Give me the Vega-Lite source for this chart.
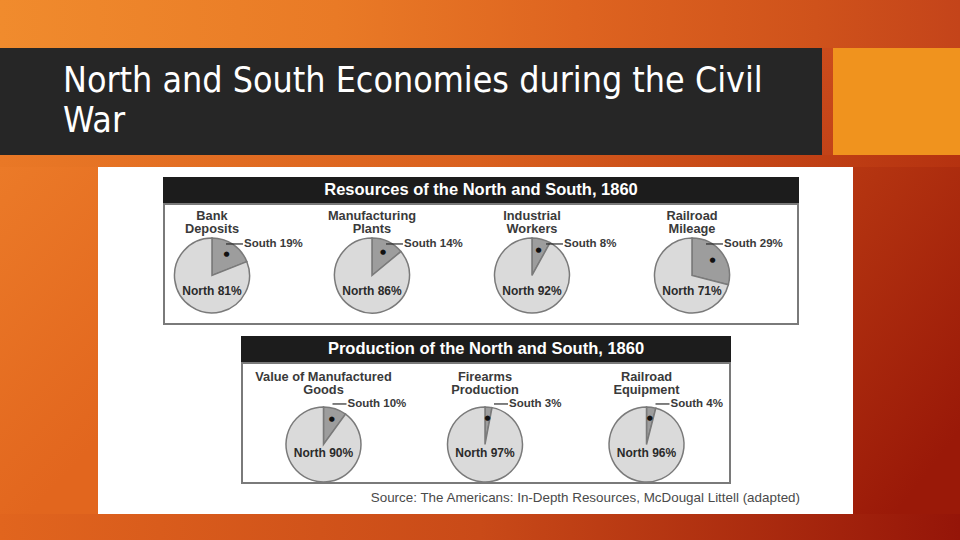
{
  "$schema": "https://vega.github.io/schema/vega-lite/v6.json",
  "background": "#ffffff",
  "padding": 0,
  "spacing": 0,
  "config": {"view": {"stroke": null}, "concat": {"spacing": 0}, "text": {"font": "Liberation Sans"}},
  "datasets": {
    "shares": [
      {"panel": "Resources of the North and South, 1860", "chart": "Bank\nDeposits", "region": "South", "pct": 19},
      {"panel": "Resources of the North and South, 1860", "chart": "Bank\nDeposits", "region": "North", "pct": 81},
      {"panel": "Resources of the North and South, 1860", "chart": "Manufacturing\nPlants", "region": "South", "pct": 14},
      {"panel": "Resources of the North and South, 1860", "chart": "Manufacturing\nPlants", "region": "North", "pct": 86},
      {"panel": "Resources of the North and South, 1860", "chart": "Industrial\nWorkers", "region": "South", "pct": 8},
      {"panel": "Resources of the North and South, 1860", "chart": "Industrial\nWorkers", "region": "North", "pct": 92},
      {"panel": "Resources of the North and South, 1860", "chart": "Railroad\nMileage", "region": "South", "pct": 29},
      {"panel": "Resources of the North and South, 1860", "chart": "Railroad\nMileage", "region": "North", "pct": 71},
      {"panel": "Production of the North and South, 1860", "chart": "Value of Manufactured\nGoods", "region": "South", "pct": 10},
      {"panel": "Production of the North and South, 1860", "chart": "Value of Manufactured\nGoods", "region": "North", "pct": 90},
      {"panel": "Production of the North and South, 1860", "chart": "Firearms\nProduction", "region": "South", "pct": 3},
      {"panel": "Production of the North and South, 1860", "chart": "Firearms\nProduction", "region": "North", "pct": 97},
      {"panel": "Production of the North and South, 1860", "chart": "Railroad\nEquipment", "region": "South", "pct": 4},
      {"panel": "Production of the North and South, 1860", "chart": "Railroad\nEquipment", "region": "North", "pct": 96}
    ]
  },
  "vconcat": [
    {
      "width": 960, "height": 48,
      "view": {"fill": {"gradient": "linear", "x1": 0, "y1": 0, "x2": 1, "y2": 0, "stops": [{"offset": 0, "color": "#f08b2d"}, {"offset": 0.35, "color": "#e97a26"}, {"offset": 0.6, "color": "#de6420"}, {"offset": 0.85, "color": "#cf521b"}, {"offset": 1, "color": "#c4441a"}]}},
      "data": {"values": []},
      "mark": {"type": "text", "text": ""}
    },
    {
      "hconcat": [
        {
          "width": 822, "height": 107,
          "view": {"fill": "#262626"},
          "data": {"values": [{"title": "North and South Economies during the Civil\nWar"}]},
          "mark": {"type": "text", "align": "left", "baseline": "alphabetic", "dx": 63, "dy": -9.5, "lineBreak": "\n", "font": "Liberation Sans Narrow, DejaVu Sans Condensed, sans-serif", "fontSize": 35.5, "lineHeight": 40, "color": "#ffffff"},
          "encoding": {"x": {"value": 0}, "text": {"field": "title"}}
        },
        {
          "width": 11, "height": 107,
          "view": {"fill": {"gradient": "linear", "x1": 0, "y1": 0, "x2": 0, "y2": 1, "stops": [{"offset": 0, "color": "#cb4c1c"}, {"offset": 1, "color": "#c24318"}]}},
          "data": {"values": []},
          "mark": {"type": "text", "text": ""}
        },
        {
          "width": 127, "height": 107,
          "view": {"fill": "#f0931e"},
          "data": {"values": []},
          "mark": {"type": "text", "text": ""}
        }
      ],
      "spacing": 0, "bounds": "flush"
    },
    {
      "width": 960, "height": 12,
      "view": {"fill": {"gradient": "linear", "x1": 0, "y1": 0, "x2": 1, "y2": 0, "stops": [{"offset": 0, "color": "#e97826"}, {"offset": 0.5, "color": "#d9601e"}, {"offset": 1, "color": "#b53210"}]}},
      "data": {"values": []},
      "mark": {"type": "text", "text": ""}
    },
    {
      "hconcat": [
        {
          "width": 98, "height": 347,
          "view": {"fill": {"gradient": "linear", "x1": 0, "y1": 0, "x2": 0.3, "y2": 1, "stops": [{"offset": 0, "color": "#eb7a28"}, {"offset": 1, "color": "#e2661e"}]}},
          "data": {"values": []},
          "mark": {"type": "text", "text": ""}
        },
        {
          "vconcat": [
            {"width": 755, "height": 10, "view": {"fill": "#ffffff"}, "data": {"values": []}, "mark": {"type": "text", "text": ""}},
            {
              "hconcat": [
                {"width": 65, "height": 148, "view": {"fill": "#ffffff"}, "data": {"values": []}, "mark": {"type": "text", "text": ""}},
                {
                  "vconcat": [
                    {
                      "width": 636, "height": 26,
                      "view": {"fill": "#1c1c1c"},
                      "data": {"name": "shares"},
                      "transform": [
                        {"filter": "datum.panel === 'Resources of the North and South, 1860'"},
                        {"aggregate": [{"op": "count", "as": "n"}], "groupby": ["panel"]}
                      ],
                      "mark": {"type": "text", "fontWeight": "bold", "fontSize": 16.5, "color": "#ffffff", "baseline": "middle", "align": "center"},
                      "encoding": {"text": {"field": "panel"}}
                    },
                    {
                      "width": 636, "height": 122,
                      "view": {"fill": "#ffffff"},
                      "layer": [
                        {
                          "data": {"name": "shares"},
                          "transform": [
                            {"filter": "datum.panel === 'Resources of the North and South, 1860'"},
                            {"calculate": "datum.region + ' ' + datum.pct + '%'", "as": "label"},
                            {"stack": "pct", "groupby": ["chart"], "sort": [{"field": "region", "order": "descending"}], "as": ["t0", "t1"]},
                            {"window": [{"op": "mean", "field": "t0", "as": "tmid"}], "groupby": ["chart"], "sort": [{"field": "region", "order": "ascending"}], "frame": [-1, 0]}
                          ],
                          "encoding": {
                            "x": {"field": "chart", "type": "nominal", "axis": null, "scale": {"type": "point", "domain": ["Bank\nDeposits", "Manufacturing\nPlants", "Industrial\nWorkers", "Railroad\nMileage"], "padding": 0.4875, "align": 0.314}},
                            "y": {"field": "panel", "type": "nominal", "axis": null, "scale": {"type": "point", "align": 0.594}}
                          },
                          "layer": [
                            {
                              "mark": {"type": "arc", "outerRadius": 37.5, "stroke": "#7a7a7a", "strokeWidth": 1.5},
                              "encoding": {
                                "theta": {"field": "t0", "type": "quantitative", "scale": {"domain": [0, 100]}},
                                "theta2": {"field": "t1"},
                                "color": {"field": "region", "type": "nominal", "legend": null, "scale": {"domain": ["South", "North"], "range": ["#9d9d9d", "#dadada"]}}
                              }
                            },
                            {
                              "transform": [{"filter": "datum.region === 'South'"}],
                              "mark": {"type": "rule", "color": "#2b2b2b", "strokeWidth": 1.2, "xOffset": 14, "x2Offset": 31, "yOffset": -31.5},
                              "encoding": {"x2": {"field": "chart"}}
                            },
                            {
                              "transform": [{"filter": "datum.region === 'South'"}],
                              "mark": {"type": "text", "text": "●", "font": "DejaVu Sans", "fontSize": 7, "color": "#111111", "align": "center", "baseline": "middle"},
                              "encoding": {"theta": {"field": "tmid", "type": "quantitative"}, "radius": {"value": 26}}
                            },
                            {
                              "transform": [{"filter": "datum.region === 'South'"}],
                              "mark": {"type": "text", "align": "left", "baseline": "middle", "dx": 32, "dy": -31.5, "fontSize": 11.5, "fontWeight": "bold", "color": "#3a3a3a"},
                              "encoding": {"text": {"field": "label"}}
                            },
                            {
                              "transform": [{"filter": "datum.region === 'North'"}],
                              "mark": {"type": "text", "align": "center", "baseline": "middle", "dy": 16, "fontSize": 12, "fontWeight": "bold", "color": "#2a2a2a"},
                              "encoding": {"text": {"field": "label"}}
                            },
                            {
                              "transform": [{"filter": "datum.region === 'North'"}],
                              "mark": {"type": "text", "align": "center", "baseline": "middle", "dy": -59.5, "lineBreak": "\n", "lineHeight": 12.8, "fontSize": 12.8, "fontWeight": "bold", "color": "#3a3a3a"},
                              "encoding": {"text": {"field": "chart"}}
                            }
                          ]
                        },
                        {
                          "data": {"values": [{}]},
                          "mark": {"type": "rect", "fill": null, "stroke": "#7a7a7a", "strokeWidth": 4, "clip": true}
                        }
                      ]
                    }
                  ],
                  "spacing": 0, "bounds": "flush"
                }
              ],
              "spacing": 0
            },
            {"width": 755, "height": 11, "view": {"fill": "#ffffff"}, "data": {"values": []}, "mark": {"type": "text", "text": ""}},
            {
              "hconcat": [
                {"width": 143, "height": 148, "view": {"fill": "#ffffff"}, "data": {"values": []}, "mark": {"type": "text", "text": ""}},
                {
                  "vconcat": [
                    {
                      "width": 490, "height": 26,
                      "view": {"fill": "#1c1c1c"},
                      "data": {"name": "shares"},
                      "transform": [
                        {"filter": "datum.panel === 'Production of the North and South, 1860'"},
                        {"aggregate": [{"op": "count", "as": "n"}], "groupby": ["panel"]}
                      ],
                      "mark": {"type": "text", "fontWeight": "bold", "fontSize": 16.5, "color": "#ffffff", "baseline": "middle", "align": "center"},
                      "encoding": {"text": {"field": "panel"}}
                    },
                    {
                      "width": 490, "height": 122,
                      "view": {"fill": "#ffffff"},
                      "layer": [
                        {
                          "data": {"name": "shares"},
                          "transform": [
                            {"filter": "datum.panel === 'Production of the North and South, 1860'"},
                            {"calculate": "datum.region + ' ' + datum.pct + '%'", "as": "label"},
                            {"stack": "pct", "groupby": ["chart"], "sort": [{"field": "region", "order": "descending"}], "as": ["t0", "t1"]},
                            {"window": [{"op": "mean", "field": "t0", "as": "tmid"}], "groupby": ["chart"], "sort": [{"field": "region", "order": "ascending"}], "frame": [-1, 0]}
                          ],
                          "encoding": {
                            "x": {"field": "chart", "type": "nominal", "axis": null, "scale": {"type": "point", "domain": ["Value of Manufactured\nGoods", "Firearms\nProduction", "Railroad\nEquipment"], "padding": 0.517, "align": 0.494}},
                            "y": {"field": "panel", "type": "nominal", "axis": null, "scale": {"type": "point", "align": 0.676}}
                          },
                          "layer": [
                            {
                              "mark": {"type": "arc", "outerRadius": 37.5, "stroke": "#7a7a7a", "strokeWidth": 1.5},
                              "encoding": {
                                "theta": {"field": "t0", "type": "quantitative", "scale": {"domain": [0, 100]}},
                                "theta2": {"field": "t1"},
                                "color": {"field": "region", "type": "nominal", "legend": null, "scale": {"domain": ["South", "North"], "range": ["#9d9d9d", "#dadada"]}}
                              }
                            },
                            {
                              "transform": [{"filter": "datum.region === 'South'"}],
                              "mark": {"type": "rule", "color": "#2b2b2b", "strokeWidth": 1.2, "xOffset": 9, "x2Offset": 23, "yOffset": -40.5},
                              "encoding": {"x2": {"field": "chart"}}
                            },
                            {
                              "transform": [{"filter": "datum.region === 'South'"}],
                              "mark": {"type": "text", "text": "●", "font": "DejaVu Sans", "fontSize": 7, "color": "#111111", "align": "center", "baseline": "middle"},
                              "encoding": {"theta": {"field": "tmid", "type": "quantitative"}, "radius": {"value": 27}}
                            },
                            {
                              "transform": [{"filter": "datum.region === 'South'"}],
                              "mark": {"type": "text", "align": "left", "baseline": "middle", "dx": 24, "dy": -40.5, "fontSize": 11.5, "fontWeight": "bold", "color": "#3a3a3a"},
                              "encoding": {"text": {"field": "label"}}
                            },
                            {
                              "transform": [{"filter": "datum.region === 'North'"}],
                              "mark": {"type": "text", "align": "center", "baseline": "middle", "dy": 8.5, "fontSize": 12, "fontWeight": "bold", "color": "#2a2a2a"},
                              "encoding": {"text": {"field": "label"}}
                            },
                            {
                              "transform": [{"filter": "datum.region === 'North'"}],
                              "mark": {"type": "text", "align": "center", "baseline": "middle", "dy": -67.5, "lineBreak": "\n", "lineHeight": 12.8, "fontSize": 12.8, "fontWeight": "bold", "color": "#3a3a3a"},
                              "encoding": {"text": {"field": "chart"}}
                            }
                          ]
                        },
                        {
                          "data": {"values": [{}]},
                          "mark": {"type": "rect", "fill": null, "stroke": "#7a7a7a", "strokeWidth": 4, "clip": true}
                        }
                      ]
                    }
                  ],
                  "spacing": 0, "bounds": "flush"
                }
              ],
              "spacing": 0
            },
            {
              "width": 702, "height": 29,
              "view": {"fill": "#ffffff"},
              "data": {"values": [{"source": "Source: The Americans: In-Depth Resources, McDougal Littell (adapted)"}]},
              "mark": {"type": "text", "align": "right", "baseline": "middle", "fontSize": 13.4, "color": "#4a4a4a", "dy": -2},
              "encoding": {"x": {"value": "width"}, "text": {"field": "source"}}
            }
          ],
          "spacing": 0
        },
        {
          "width": 107, "height": 347,
          "view": {"fill": {"gradient": "linear", "x1": 0, "y1": 0, "x2": 0.4, "y2": 1, "stops": [{"offset": 0, "color": "#b63611"}, {"offset": 1, "color": "#9a1908"}]}},
          "data": {"values": []},
          "mark": {"type": "text", "text": ""}
        }
      ],
      "spacing": 0
    },
    {
      "width": 960, "height": 27,
      "view": {"fill": {"gradient": "linear", "x1": 0, "y1": 0, "x2": 1, "y2": 0, "stops": [{"offset": 0, "color": "#e1651e"}, {"offset": 0.5, "color": "#c94a18"}, {"offset": 1, "color": "#951508"}]}},
      "data": {"values": []},
      "mark": {"type": "text", "text": ""}
    }
  ]
}
